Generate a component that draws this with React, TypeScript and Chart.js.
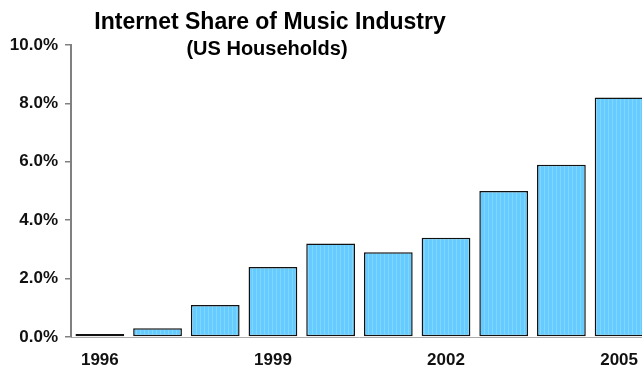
import React, { useEffect, useRef } from "react";
import { Chart, registerables } from "chart.js";

Chart.register(...registerables);

const categories = ["1996", "1997", "1998", "1999", "2000", "2001", "2002", "2003", "2004", "2005"];
const shareValues = [0.1, 0.3, 1.1, 2.4, 3.2, 2.9, 3.4, 5.0, 5.9, 8.2];
const shownYearLabels = ["1996", "1999", "2002", "2005"];
const titleText = "Internet Share of Music Industry";
const subtitleText = "(US Households)";

const FONT = "'Liberation Sans', Arial, Helvetica, sans-serif";

function makeStripePattern(): CanvasPattern | string {
  const c = document.createElement("canvas");
  c.width = 4;
  c.height = 4;
  const ctx = c.getContext("2d");
  if (!ctx) return "#66ccff";
  ctx.fillStyle = "#66ccff";
  ctx.fillRect(0, 0, 4, 4);
  ctx.fillStyle = "#7fd6ff";
  ctx.fillRect(0, 0, 1, 4);
  const p = ctx.createPattern(c, "repeat");
  return p || "#66ccff";
}

const titlePlugin = {
  id: "customTitle",
  afterDraw(chart: any) {
    const ctx = chart.ctx;
    ctx.save();
    ctx.fillStyle = "#000";
    ctx.textAlign = "center";
    ctx.textBaseline = "alphabetic";
    ctx.font = `bold 23px ${FONT}`;
    ctx.fillText(titleText, 262, 20.5);
    ctx.font = `bold 20px ${FONT}`;
    ctx.fillText(subtitleText, 259, 47);
    ctx.restore();
  },
};

export default function App() {
  const ref = useRef<HTMLCanvasElement | null>(null);

  useEffect(() => {
    const prevMargin = document.body.style.margin;
    document.body.style.margin = "0";
    if (!ref.current) return;
    const chart = new Chart(ref.current, {
      type: "bar",
      data: {
        labels: categories,
        datasets: [
          {
            data: shareValues,
            backgroundColor: makeStripePattern() as any,
            borderColor: "#111",
            borderWidth: 1.5,
            borderSkipped: false,
            barPercentage: 0.845,
            categoryPercentage: 1,
          },
        ],
      },
      options: {
        responsive: false,
        animation: false,
        layout: { padding: { top: 37, left: 0, right: 0, bottom: 0 } },
        plugins: {
          legend: { display: false },
          title: { display: false },
          tooltip: { enabled: false },
        },
        scales: {
          x: {
            grid: { display: false, drawTicks: false },
            border: { display: true, color: "#aaaaaa", width: 1 },
            ticks: {
              autoSkip: false,
              maxRotation: 0,
              padding: 13,
              color: "#111",
              font: { family: FONT, size: 17, weight: "bold" },
              callback: (_v: any, i: number) =>
                shownYearLabels.includes(categories[i]) ? categories[i] : "",
            },
            afterFit: (s: any) => {
              s.height = 36;
            },
          },
          y: {
            min: 0,
            max: 10,
            grid: {
              drawOnChartArea: false,
              drawTicks: true,
              tickLength: 6,
              color: "#808080",
              lineWidth: 1.5,
            },
            border: { display: true, color: "#808080", width: 2 },
            ticks: {
              stepSize: 2,
              padding: 7,
              color: "#111",
              font: { family: FONT, size: 17, weight: "bold" },
              callback: (v: any) => Number(v).toFixed(1) + "%",
            },
            afterFit: (s: any) => {
              s.width = 63;
            },
          },
        },
      },
      plugins: [titlePlugin],
    });
    return () => {
      chart.destroy();
      document.body.style.margin = prevMargin;
    };
  }, []);

  return (
    <div style={{ width: 642, height: 373, overflow: "hidden", position: "relative" }}>
      <canvas
        ref={ref}
        width={643}
        height={365}
        style={{ display: "block", position: "absolute", left: 8, top: 8 }}
      />
    </div>
  );
}
